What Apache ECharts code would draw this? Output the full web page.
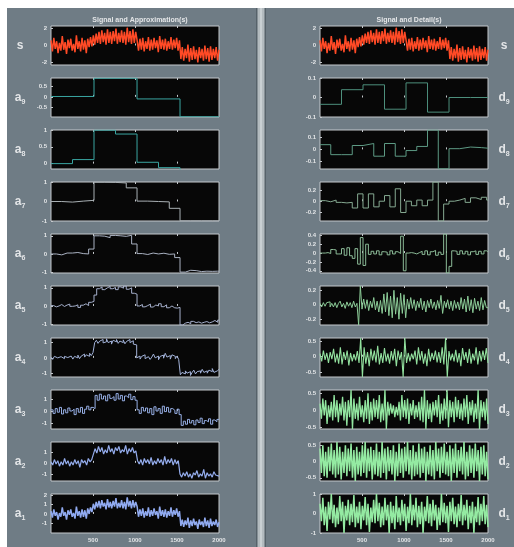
<!DOCTYPE html>
<html>
<head>
<meta charset="utf-8">
<script src="https://cdn.jsdelivr.net/npm/echarts@6.0.0/dist/echarts.min.js"></script>
<style>
  html, body { margin: 0; padding: 0; background: #ffffff; }
  #main { width: 514px; height: 547px; }
</style>
</head>
<body>
<div id="main"></div>
<script>
// x axis (sample index) ticks
const xTicks = [500, 1000, 1500, 2000];

// original signal s (evenly spaced over 0..2000)
const sValues = [
  0.6,-0.7,0.9,-0.4,0.5,-0.9,0.3,-0.6,1.1,-0.5,
  0.4,-1.0,0.7,-0.3,0.8,-0.6,0.2,-0.8,1.2,-0.4,
  0.5,-0.7,0.9,-0.5,0.6,-0.9,0.8,-0.2,1.0,-0.1,
  1.2,0.1,1.4,0.3,1.6,0.2,1.8,0.4,1.5,0.1,
  1.9,0.3,1.6,0.2,1.7,0.5,2.0,0.2,1.5,0.4,
  1.8,0.3,1.6,0.1,2.1,0.4,1.7,0.2,1.9,0.3,
  1.6,0.6,-0.6,0.8,-0.5,0.9,-0.7,0.5,-0.4,1.0,
  -0.6,0.7,-0.5,0.9,-0.3,0.6,-0.8,1.1,-0.4,0.7,
  -0.5,0.8,-0.6,0.5,-0.4,1.0,-0.5,0.7,-0.3,0.9,
  -0.6,0.6,-1.6,-0.2,-1.8,-0.4,-1.5,0.1,-1.9,-0.3,
  -1.7,-0.1,-1.6,-0.5,-2.0,-0.2,-1.5,-0.4,-1.8,0.0,
  -1.6,-0.3,-1.9,-0.1,-1.7,-0.4,-1.5,-0.2,-1.8,-0.5
];

// approximations (block values)
const a9Values = [0.02, 0.91, -0.1, -0.97];
const a8Values = [0.0, 0.12, 0.995, 0.88, 0.04, -0.12, -1.0, -1.0];
const a7Values = [0.0, -0.03, 0.02, 0.06, 0.99, 0.98, 0.95, 0.7, 0.02, 0.0, -0.02, -0.35, -0.99, -0.99, -0.99, -0.99];
const a6Values = [
  0.0,-0.05,0.05,0.05,0.08,0.02,0.0,0.27,
  1.0,0.98,0.9,1.02,1.0,0.97,1.03,0.55,
  0.02,-0.03,0.05,0.0,0.04,-0.02,0.0,-0.2,
  -1.0,-0.9,-0.92,-0.97,-0.95,-0.96,-0.95,-0.95
];
const a5Values = [
  0.02,-0.05,0.0,0.08,-0.03,0.05,0.1,-0.02,0.0,0.06,-0.08,0.04,0.12,0.02,0.2,0.25,
  0.6,0.95,1.05,0.9,1.0,1.08,0.95,1.02,0.9,1.05,0.98,1.1,0.92,1.0,0.7,0.65,
  0.0,0.08,-0.05,0.02,0.1,-0.06,0.05,0.0,0.12,-0.04,0.06,-0.1,0.0,-0.1,-0.12,-0.08,
  -1.05,-0.95,-0.9,-0.98,-0.85,-0.92,-0.88,-0.95,-0.9,-0.86,-0.93,-0.88,-0.8,-0.9,-0.78
];
const a4Values = [
  0.05,-0.1,0.1,0.0,-0.12,0.08,0.15,-0.05,0.1,0.02,
  -0.1,0.12,0.05,-0.08,0.1,0.0,0.18,-0.05,0.12,0.25,
  0.05,0.2,0.1,0.3,0.15,0.35,1.0,1.15,0.95,1.1,
  1.2,0.98,1.05,1.25,1.0,1.1,0.9,1.15,1.05,1.2,
  0.95,1.1,1.0,1.18,0.92,1.08,1.2,1.0,1.12,0.9,
  0.85,0.0,0.12,-0.08,0.1,0.2,-0.05,0.08,0.15,-0.1,
  0.05,0.25,0.0,0.12,-0.12,0.1,0.18,-0.02,0.3,0.05,
  0.15,-0.08,0.2,0.1,-0.05,0.12,-0.1,-1.1,-0.95,-1.05,
  -0.85,-1.0,-0.9,-1.15,-0.95,-0.8,-1.05,-0.9,-0.85,-1.0,
  -0.75,-0.95,-0.85,-1.0,-0.8,-0.9,-0.7,-0.95,-0.85,-0.75
];
const a3Values = [
  0.1,-0.2,0.2,-0.1,0.3,-0.25,0.1,-0.15,0.25,0.0,
  0.15,-0.3,0.2,-0.1,0.3,-0.2,0.15,0.4,0.1,0.3,
  0.2,1.3,0.9,1.4,1.0,1.25,0.85,1.35,1.05,1.2,
  0.9,1.45,1.0,1.3,0.85,1.25,1.1,1.4,0.95,1.2,
  0.9,0.1,-0.2,0.3,0.0,0.25,-0.15,0.2,-0.3,0.35,
  0.0,0.2,-0.2,0.4,-0.05,0.3,-0.1,0.2,0.05,-0.2,
  0.15,-0.3,-1.2,-0.85,-1.1,-0.7,-1.0,-0.8,-1.15,-0.75,
  -0.95,-0.6,-1.05,-0.8,-0.9,-0.65,-1.1,-0.75,-0.9,-0.7
];
const a2Values = [
  0.1,-0.2,0.3,-0.1,0.2,-0.3,0.1,-0.2,0.4,-0.1,
  0.2,-0.3,0.1,-0.2,0.3,-0.1,0.2,-0.4,0.3,0.0,
  0.2,-0.2,0.4,0.1,0.3,0.8,1.3,0.9,1.5,1.0,
  1.4,0.8,1.2,0.9,1.6,1.0,1.3,0.8,1.4,1.1,
  1.5,0.9,1.2,1.0,1.6,0.8,1.3,1.0,1.4,0.9,
  1.1,0.2,-0.1,0.3,-0.2,0.4,0.0,0.3,-0.1,0.5,
  -0.2,0.2,-0.1,0.4,0.0,0.3,-0.2,0.6,-0.1,0.3,
  0.0,0.4,-0.2,0.3,-0.1,0.2,-1.0,-1.3,-0.9,-1.2,
  -0.8,-1.3,-1.0,-1.4,-0.9,-1.1,-0.7,-1.3,-1.0,-1.2,
  -0.6,-1.4,-0.9,-1.2,-1.0,-1.3,-0.8,-1.1,-1.0,-1.2
];
const a1Values = [
  0.3,-0.4,0.5,-0.2,0.2,-0.6,0.1,-0.3,0.7,-0.2,
  0.2,-0.6,0.4,-0.1,0.5,-0.3,0.1,-0.5,0.8,-0.2,
  0.3,-0.4,0.5,-0.3,0.4,-0.5,0.6,0.0,0.7,0.2,
  1.1,0.5,1.3,0.7,1.4,0.6,1.5,0.8,1.2,0.5,
  1.6,0.7,1.3,0.6,1.4,0.8,1.7,0.6,1.2,0.7,
  1.5,0.6,1.3,0.5,1.8,0.8,1.4,0.6,1.5,0.7,
  1.3,0.8,-0.3,0.5,-0.2,0.6,-0.4,0.3,-0.2,0.7,
  -0.3,0.4,-0.2,0.6,-0.1,0.3,-0.5,0.8,-0.2,0.4,
  -0.3,0.5,-0.4,0.3,-0.2,0.7,-0.3,0.4,-0.1,0.6,
  -0.3,0.3,-1.3,-0.6,-1.4,-0.7,-1.2,-0.4,-1.5,-0.7,
  -1.3,-0.5,-1.2,-0.8,-1.6,-0.6,-1.2,-0.8,-1.4,-0.4,
  -1.3,-0.7,-1.5,-0.5,-1.3,-0.8,-1.2,-0.6,-1.4,-0.9
];

// details
const d9Values = [-0.035, 0.04, 0.065, -0.06, 0.075, -0.075, 0.0, 0.0];
const d8Values = [0.04, -0.045, -0.045, 0.033, 0.05, -0.058, 0.05, -0.058, -0.01, 0.025, 0.165, -0.166, 0.006, 0.02, 0.015, 0.01];
const d7Values = [
  0.01,-0.01,0.02,-0.02,-0.03,-0.02,-0.12,0.13,-0.12,0.13,-0.1,0.0,0.1,-0.1,0.22,-0.2,
  0.0,-0.08,0.02,-0.08,0.02,0.34,-0.35,-0.05,0.0,0.02,0.05,-0.02,0.06,0.03,0.07,0.02
];
const d6Values = [
  0.0,0.0,0.01,-0.01,0.08,0.07,-0.02,-0.02,0.1,-0.05,0.12,-0.06,-0.12,0.1,-0.25,0.35,-0.28,0.2,
  -0.03,0.04,-0.02,0.05,-0.04,0.03,0.02,-0.04,0.05,-0.02,0.03,-0.01,
  0.38,-0.4,
  0.0,0.01,0.0,-0.02,0.01,
  0.04,-0.03,0.05,-0.04,0.03,0.06,-0.05,0.02,-0.03,
  0.43,-0.45,-0.3,0.05,
  0.04,-0.03,0.05,-0.02,0.04,-0.04,0.03,0.05,-0.03,0.04,-0.02,0.05,0.03
];
const d5Values = [
  0.02,-0.03,0.03,-0.02,0.03,0.04,-0.03,0.02,-0.03,0.03,
  -0.04,0.02,0.05,-0.03,0.02,-0.05,0.04,-0.02,0.03,-0.04,
  0.05,-0.03,0.02,-0.28,0.26,-0.06,0.08,-0.05,0.07,-0.08,
  0.05,-0.04,0.1,-0.07,0.05,-0.1,0.06,-0.12,0.15,-0.1,
  0.17,-0.15,0.12,-0.18,0.2,-0.13,0.1,-0.2,0.16,-0.12,
  0.14,-0.18,0.08,-0.06,0.1,-0.05,0.07,-0.08,0.05,-0.04,
  0.09,-0.07,0.05,-0.1,0.06,-0.04,0.08,-0.05,0.04,-0.07,
  0.06,-0.05,0.13,-0.12,0.05,-0.04,0.07,-0.06,0.05,-0.08,
  0.06,-0.05,0.04,-0.07,0.1,-0.06,0.08,-0.1,0.12,-0.08,
  0.07,-0.11,0.09,-0.06,0.05,-0.08,0.1,-0.07,0.06,-0.04
];
const d4Values = [
  0.1,-0.15,0.2,-0.1,0.12,-0.2,0.15,-0.08,0.25,-0.18,
  0.1,-0.22,0.3,-0.25,0.15,-0.1,0.2,-0.28,0.12,-0.15,
  0.08,-0.12,0.18,-0.2,0.6,-0.65,0.3,-0.22,0.15,-0.3,
  0.25,-0.12,0.2,-0.18,0.35,-0.25,0.12,-0.2,0.28,-0.15,
  0.1,-0.22,0.18,-0.12,0.25,-0.3,0.2,-0.1,0.15,-0.65,
  0.6,-0.2,0.12,-0.15,0.1,-0.08,0.2,-0.25,0.3,-0.12,
  0.18,-0.22,0.1,-0.3,0.25,-0.15,0.12,-0.1,0.2,-0.18,
  0.15,-0.2,0.3,-0.25,0.6,-0.65,0.18,-0.12,0.1,-0.15,
  0.22,-0.18,0.12,-0.3,0.28,-0.1,0.15,-0.2,0.25,-0.22,
  0.1,-0.12,0.3,-0.25,0.18,-0.15,0.2,-0.1,0.28,-0.2
];
const d3Values = [
  0.2,-0.25,0.35,-0.15,0.3,-0.4,0.15,-0.2,0.25,-0.3,
  0.45,-0.2,0.3,-0.35,0.2,-0.15,0.4,-0.3,0.25,-0.45,
  0.3,-0.2,0.6,-0.55,0.35,-0.25,0.2,-0.3,0.4,-0.2,
  0.15,-0.35,0.3,-0.25,0.5,-0.4,0.25,-0.3,0.35,-0.2,
  0.3,-0.25,0.45,-0.35,0.2,-0.3,0.6,-0.55,0.25,-0.15,
  0.2,-0.1,0.15,-0.2,0.1,-0.15,0.25,-0.3,0.45,-0.2,
  0.3,-0.25,0.35,-0.4,0.2,-0.15,0.3,-0.25,0.15,-0.2,
  0.25,-0.3,0.4,-0.35,0.6,-0.55,0.3,-0.25,0.2,-0.35,
  0.25,-0.15,0.3,-0.2,0.45,-0.4,0.2,-0.3,0.35,-0.25,
  0.6,-0.5,0.3,-0.2,0.25,-0.35,0.4,-0.2,0.3,-0.25,
  0.2,-0.3,0.35,-0.2,0.45,-0.4,0.25,-0.15,0.3,-0.35,
  0.2,-0.25,0.6,-0.55,0.3,-0.2,0.25,-0.3,0.35,-0.4
];
const d2Values = [
  0.4,-0.35,0.5,-0.45,0.3,-0.5,0.45,-0.3,0.55,-0.4,
  0.35,-0.5,0.6,-0.4,0.45,-0.55,0.3,-0.35,0.5,-0.45,
  0.4,-0.3,0.55,-0.5,0.35,-0.6,0.45,-0.4,0.3,-0.45,
  0.5,-0.35,0.6,-0.5,0.4,-0.3,0.45,-0.55,0.35,-0.4,
  0.55,-0.45,0.3,-0.5,0.6,-0.35,0.4,-0.55,0.45,-0.3,
  0.35,-0.4,0.5,-0.6,0.3,-0.45,0.55,-0.35,0.4,-0.5,
  0.45,-0.3,0.6,-0.4,0.35,-0.55,0.5,-0.45,0.3,-0.4,
  0.55,-0.5,0.4,-0.35,0.45,-0.6,0.3,-0.4,0.5,-0.45,
  0.35,-0.55,0.6,-0.3,0.4,-0.5,0.45,-0.35,0.55,-0.4,
  0.3,-0.45,0.5,-0.6,0.4,-0.35,0.55,-0.5,0.35,-0.3,
  0.45,-0.4,0.6,-0.55,0.3,-0.45,0.5,-0.35,0.4,-0.5,
  0.55,-0.3,0.35,-0.6,0.45,-0.4,0.5,-0.45,0.3,-0.55
];
const d1Values = [
  0.5,-0.4,0.8,-0.6,0.35,-0.9,0.6,-0.3,1.0,-0.5,
  0.45,-0.7,0.3,-0.55,0.9,-0.4,0.6,-1.0,0.4,-0.35,
  0.7,-0.6,0.5,-0.45,0.95,-0.7,0.35,-0.5,0.6,-0.8,
  0.4,-0.35,0.85,-0.6,0.5,-0.95,0.3,-0.45,0.7,-0.5,
  1.0,-0.4,0.55,-0.7,0.35,-0.6,0.8,-0.35,0.45,-1.0,
  0.6,-0.5,0.4,-0.8,0.9,-0.45,0.3,-0.6,0.7,-0.4,
  0.5,-0.9,0.35,-0.5,1.0,-0.6,0.45,-0.35,0.8,-0.7,
  0.4,-0.55,0.6,-1.0,0.35,-0.4,0.9,-0.5,0.5,-0.65,
  0.7,-0.35,0.45,-0.85,0.3,-0.6,1.0,-0.45,0.55,-0.5,
  0.4,-0.95,0.6,-0.4,0.8,-0.55,0.35,-0.7,0.5,-0.4,
  0.95,-0.6,0.45,-0.35,0.7,-0.8,0.4,-0.5,0.6,-1.0,
  0.35,-0.45,0.85,-0.6,0.5,-0.4,0.9,-0.55,0.45,-0.7
];

// y tick labels per panel
const sTicks = [-2, 0, 2];
const a9Ticks = [-0.5, 0, 0.5];
const a8Ticks = [0, 0.5, 1];
const aTicks = [-1, 0, 1];
const a1Ticks = [-1, 0, 1, 2];
const d9Ticks = [-0.1, 0, 0.1];
const d7Ticks = [-0.2, 0, 0.2];
const d6Ticks = [-0.4, -0.2, 0, 0.2, 0.4];
const d5Ticks = [-0.2, 0, 0.2];
const d4Ticks = [-0.5, 0, 0.5];
const d1Ticks = [-1, 0, 1];

// panel setup: block = samples per step (null -> plain line)
let leftPanels = [
  { name: 's', sub: '', data: sValues, block: null, min: -2.3, max: 2.3, ticks: sTicks, color: '#ff4a26', lw: 1.5 },
  { name: 'a', sub: '9', data: a9Values, block: 512, min: -0.98, max: 0.92, ticks: a9Ticks, color: '#3aa6a2', lw: 1 },
  { name: 'a', sub: '8', data: a8Values, block: 256, min: -0.16, max: 1.0, ticks: a8Ticks, color: '#3aa6a2', lw: 1 },
  { name: 'a', sub: '7', data: a7Values, block: 128, min: -1.0, max: 1.0, ticks: aTicks, color: '#a9b0b4', lw: 1 },
  { name: 'a', sub: '6', data: a6Values, block: 64, min: -1.05, max: 1.1, ticks: aTicks, color: '#aab2c2', lw: 1 },
  { name: 'a', sub: '5', data: a5Values, block: 32, min: -1.05, max: 1.1, ticks: aTicks, color: '#a6b0cc', lw: 1 },
  { name: 'a', sub: '4', data: a4Values, block: 20, min: -1.25, max: 1.3, ticks: aTicks, color: '#a2b2d8', lw: 1 },
  { name: 'a', sub: '3', data: a3Values, block: 25, min: -1.5, max: 1.75, ticks: aTicks, color: '#98b0e6', lw: 1 },
  { name: 'a', sub: '2', data: a2Values, block: null, min: -1.65, max: 1.9, ticks: aTicks, color: '#94acec', lw: 1.2 },
  { name: 'a', sub: '1', data: a1Values, block: null, min: -2.05, max: 2.15, ticks: a1Ticks, color: '#90aaf0', lw: 1.5 }
];
let rightPanels = [
  { name: 's', sub: '', data: sValues, block: null, min: -2.3, max: 2.3, ticks: sTicks, color: '#ff4a26', lw: 1.5 },
  { name: 'd', sub: '9', data: d9Values, block: 256, min: -0.1, max: 0.1, ticks: d9Ticks, color: '#4d8f7c', lw: 1 },
  { name: 'd', sub: '8', data: d8Values, block: 128, min: -0.167, max: 0.165, ticks: d9Ticks, color: '#5d9a84', lw: 1 },
  { name: 'd', sub: '7', data: d7Values, block: 64, min: -0.35, max: 0.34, ticks: d7Ticks, color: '#86aa92', lw: 1 },
  { name: 'd', sub: '6', data: d6Values, block: 32, min: -0.45, max: 0.43, ticks: d6Ticks, color: '#8cbc98', lw: 1 },
  { name: 'd', sub: '5', data: d5Values, block: 20, min: -0.28, max: 0.26, ticks: d5Ticks, color: '#8ccc98', lw: 1 },
  { name: 'd', sub: '4', data: d4Values, block: null, min: -0.65, max: 0.6, ticks: d4Ticks, color: '#92e09e', lw: 1.1 },
  { name: 'd', sub: '3', data: d3Values, block: null, min: -0.55, max: 0.6, ticks: d4Ticks, color: '#92e6a0', lw: 1.3 },
  { name: 'd', sub: '2', data: d2Values, block: null, min: -0.6, max: 0.6, ticks: d4Ticks, color: '#94eaa2', lw: 1.5 },
  { name: 'd', sub: '1', data: d1Values, block: null, min: -1.0, max: 1.0, ticks: d1Ticks, color: '#94eaa2', lw: 1.5 }
];

const textColor = '#e4e6e8';
const frameColor = '#c4c8cc';

let grids = [];
let xAxes = [];
let yAxes = [];
let seriesList = [];
let graphics = [];

function toPoints(values, block) {
  let pts;
  if (block) {
    pts = values.map((v, i) => [i * block, v]);
    pts.push([2000, values[values.length - 1]]);
  } else {
    let dx = 2000 / (values.length - 1);
    pts = values.map((v, i) => [i * dx, v]);
  }
  return pts;
}

function addPanel(p, col, row) {
  let idx = grids.length;
  let left = col === 0 ? 51 : 320;
  let top = 26 + 52 * row;
  let last = row === 9;
  grids.push({
    left: left, top: top, width: 168, height: 39,
    show: true, backgroundColor: '#070707',
    borderColor: frameColor, borderWidth: 1
  });
  // bottom axis (labels only on last row)
  xAxes.push({
    gridIndex: idx, type: 'value', min: 0, max: 2000, position: 'bottom',
    axisLine: { show: false },
    splitLine: { show: false },
    axisTick: { show: true, inside: true, length: 2, customValues: [500, 1000, 1500], lineStyle: { color: frameColor } },
    axisLabel: {
      show: last, customValues: xTicks, margin: 4,
      formatter: v => String(v),
      color: textColor, fontSize: 6, fontWeight: 'bold', fontFamily: 'Liberation Sans'
    }
  });
  // top axis, ticks only
  xAxes.push({
    gridIndex: idx, type: 'value', min: 0, max: 2000, position: 'top',
    axisLine: { show: false },
    splitLine: { show: false },
    axisTick: { show: true, inside: true, length: 2, customValues: [500, 1000, 1500], lineStyle: { color: frameColor } },
    axisLabel: { show: false }
  });
  yAxes.push({
    gridIndex: idx, type: 'value', min: p.min, max: p.max,
    axisLine: { show: false },
    splitLine: { show: false },
    axisTick: { show: true, inside: true, length: 2, customValues: p.ticks, lineStyle: { color: frameColor } },
    axisLabel: {
      customValues: p.ticks, margin: 4,
      formatter: v => String(v),
      color: textColor, fontSize: 6, fontWeight: 'bold', fontFamily: 'Liberation Sans'
    }
  });
  seriesList.push({
    type: 'line',
    xAxisIndex: idx * 2,
    yAxisIndex: idx,
    data: toPoints(p.data, p.block),
    step: p.block ? 'end' : false,
    showSymbol: false,
    symbol: 'none',
    silent: true,
    lineStyle: { color: p.color, width: p.lw }
  });
  // side label
  graphics.push({
    type: 'text',
    x: col === 0 ? 20 : 504,
    y: top + 19.5,
    style: {
      text: p.sub ? '{n|' + p.name + '}{i|' + p.sub + '}' : '{n|' + p.name + '}',
      align: 'center', verticalAlign: 'middle',
      rich: {
        n: { fontSize: 12, fontWeight: 'bold', fill: textColor, fontFamily: 'Liberation Sans' },
        i: { fontSize: 7, fontWeight: 'bold', fill: textColor, fontFamily: 'Liberation Sans', padding: [9, 0, 0, 0] }
      }
    }
  });
}

leftPanels.forEach((p, r) => addPanel(p, 0, r));
rightPanels.forEach((p, r) => addPanel(p, 1, r));

// frame pieces: white margin, column separator
graphics.unshift(
  { type: 'rect', shape: { x: 0, y: 0, width: 514, height: 8 }, style: { fill: '#ffffff' } },
  { type: 'rect', shape: { x: 0, y: 0, width: 7, height: 547 }, style: { fill: '#ffffff' } },
  { type: 'rect', shape: { x: 256, y: 8, width: 10, height: 539 }, style: { fill: '#56626a' } },
  { type: 'rect', shape: { x: 257.5, y: 8, width: 7, height: 539 }, style: { fill: '#b3bbbf' } },
  { type: 'rect', shape: { x: 260, y: 8, width: 2, height: 539 }, style: { fill: '#c9d0d3' } }
);

let myChart = echarts.init(document.getElementById('main'));
let option = {
  backgroundColor: '#6f7c85',
  animation: false,
  title: [
    {
      text: 'Signal and Approximation(s)', left: 135, top: 12, textAlign: 'center',
      textStyle: { color: textColor, fontSize: 7, fontWeight: 'bold', fontFamily: 'Liberation Sans' }
    },
    {
      text: 'Signal and Detail(s)', left: 404, top: 12, textAlign: 'center',
      textStyle: { color: textColor, fontSize: 7, fontWeight: 'bold', fontFamily: 'Liberation Sans' }
    }
  ],
  grid: grids,
  xAxis: xAxes,
  yAxis: yAxes,
  series: seriesList,
  graphic: graphics
};
myChart.setOption(option);
</script>
</body>
</html>
